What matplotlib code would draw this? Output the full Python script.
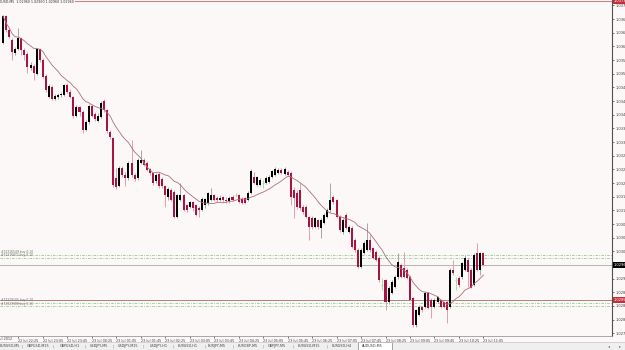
import matplotlib
matplotlib.use("Agg")
import matplotlib.pyplot as plt
import matplotlib.transforms as mtransforms
from matplotlib.patches import Rectangle
import numpy as np
import pandas as pd

# ══════════════════════════════════════════════════════════════════════════════
#  DATA  (AUDUSD, M5 bars from 22 Jul 2012 22:00 to 23 Jul 2012 11:05)
# ══════════════════════════════════════════════════════════════════════════════
opens = [
    1.03610, 1.03689, 1.03648, 1.03619, 1.03581, 1.03592, 1.03625, 1.03590, 1.03578, 1.03537,
    1.03543, 1.03519, 1.03592, 1.03560, 1.03513, 1.03452, 1.03481, 1.03446, 1.03452, 1.03458,
    1.03458, 1.03487, 1.03466, 1.03452, 1.03396, 1.03423, 1.03408, 1.03355, 1.03379, 1.03425,
    1.03402, 1.03382, 1.03393, 1.03440, 1.03414, 1.03349, 1.03332, 1.03214, 1.03191, 1.03244,
    1.03223, 1.03214, 1.03258, 1.03223, 1.03214, 1.03258, 1.03267, 1.03258, 1.03241, 1.03229,
    1.03206, 1.03226, 1.03212, 1.03191, 1.03159, 1.03179, 1.03173, 1.03100, 1.03150, 1.03165,
    1.03135, 1.03130, 1.03144, 1.03135, 1.03127, 1.03121, 1.03135, 1.03141, 1.03150, 1.03165,
    1.03156, 1.03150, 1.03159, 1.03150, 1.03147, 1.03159, 1.03165, 1.03165, 1.03153, 1.03156,
    1.03150, 1.03171, 1.03217, 1.03194, 1.03194, 1.03200, 1.03200, 1.03203, 1.03217, 1.03223,
    1.03229, 1.03238, 1.03226, 1.03232, 1.03229, 1.03179, 1.03171, 1.03179, 1.03130, 1.03130,
    1.03100, 1.03097, 1.03071, 1.03091, 1.03068, 1.03083, 1.03100, 1.03121, 1.03159, 1.03150,
    1.03100, 1.03056, 1.03106, 1.03056, 1.03068, 1.03033, 1.03004, 1.02954, 1.02995, 1.03004,
    1.03033, 1.03009, 1.02998, 1.02980, 1.02901, 1.02916, 1.02851, 1.02878, 1.02895, 1.02924,
    1.02960, 1.02951, 1.02945, 1.02924, 1.02863, 1.02784, 1.02813, 1.02836, 1.02836, 1.02878,
    1.02857, 1.02836, 1.02851, 1.02857, 1.02851, 1.02851, 1.02836, 1.02945, 1.02916, 1.02922,
    1.02924, 1.02945, 1.02974, 1.02945, 1.02901, 1.02995, 1.02945, 1.02995,
]
highs = [
    1.03692, 1.03692, 1.03654, 1.03625, 1.03598, 1.03654, 1.03628, 1.03595, 1.03584, 1.03554,
    1.03549, 1.03595, 1.03595, 1.03566, 1.03519, 1.03490, 1.03487, 1.03461, 1.03464, 1.03466,
    1.03490, 1.03493, 1.03475, 1.03455, 1.03428, 1.03425, 1.03414, 1.03384, 1.03431, 1.03431,
    1.03408, 1.03405, 1.03440, 1.03446, 1.03417, 1.03355, 1.03335, 1.03244, 1.03250, 1.03250,
    1.03232, 1.03264, 1.03326, 1.03229, 1.03273, 1.03297, 1.03273, 1.03264, 1.03244, 1.03232,
    1.03229, 1.03232, 1.03217, 1.03194, 1.03188, 1.03185, 1.03179, 1.03168, 1.03200, 1.03168,
    1.03138, 1.03147, 1.03147, 1.03138, 1.03132, 1.03159, 1.03156, 1.03173, 1.03185, 1.03168,
    1.03162, 1.03165, 1.03162, 1.03159, 1.03162, 1.03165, 1.03171, 1.03168, 1.03159, 1.03159,
    1.03176, 1.03241, 1.03232, 1.03220, 1.03214, 1.03209, 1.03220, 1.03223, 1.03238, 1.03247,
    1.03244, 1.03244, 1.03247, 1.03238, 1.03235, 1.03188, 1.03179, 1.03200, 1.03135, 1.03135,
    1.03103, 1.03103, 1.03100, 1.03094, 1.03097, 1.03112, 1.03127, 1.03200, 1.03165, 1.03153,
    1.03106, 1.03097, 1.03112, 1.03077, 1.03074, 1.03039, 1.03009, 1.03009, 1.03030, 1.03083,
    1.03047, 1.03012, 1.03004, 1.02986, 1.02922, 1.02919, 1.02898, 1.02916, 1.02930, 1.02995,
    1.02965, 1.02998, 1.02951, 1.02930, 1.02866, 1.02831, 1.02842, 1.02839, 1.02883, 1.02880,
    1.02863, 1.02863, 1.02869, 1.02860, 1.02854, 1.02857, 1.02951, 1.02974, 1.02924, 1.02927,
    1.02968, 1.02989, 1.02980, 1.02951, 1.02995, 1.03024, 1.02998, 1.02998,
]
lows = [
    1.03607, 1.03642, 1.03625, 1.03560, 1.03575, 1.03590, 1.03575, 1.03560, 1.03522, 1.03531,
    1.03502, 1.03516, 1.03554, 1.03508, 1.03466, 1.03449, 1.03443, 1.03443, 1.03446, 1.03452,
    1.03455, 1.03464, 1.03449, 1.03390, 1.03393, 1.03396, 1.03346, 1.03352, 1.03373, 1.03393,
    1.03382, 1.03379, 1.03390, 1.03408, 1.03346, 1.03329, 1.03188, 1.03182, 1.03188, 1.03217,
    1.03191, 1.03209, 1.03217, 1.03206, 1.03209, 1.03256, 1.03250, 1.03235, 1.03223, 1.03194,
    1.03200, 1.03185, 1.03185, 1.03130, 1.03150, 1.03147, 1.03097, 1.03097, 1.03147, 1.03118,
    1.03115, 1.03127, 1.03118, 1.03103, 1.03100, 1.03118, 1.03127, 1.03135, 1.03147, 1.03147,
    1.03144, 1.03147, 1.03144, 1.03141, 1.03141, 1.03147, 1.03159, 1.03141, 1.03138, 1.03138,
    1.03147, 1.03168, 1.03197, 1.03191, 1.03191, 1.03185, 1.03197, 1.03200, 1.03214, 1.03220,
    1.03226, 1.03226, 1.03223, 1.03220, 1.03135, 1.03097, 1.03124, 1.03121, 1.03109, 1.03097,
    1.03033, 1.03065, 1.03068, 1.03065, 1.03039, 1.03080, 1.03097, 1.03115, 1.03138, 1.03097,
    1.03056, 1.03050, 1.03065, 1.03053, 1.03009, 1.02998, 1.02951, 1.02951, 1.02992, 1.03001,
    1.02998, 1.02977, 1.02971, 1.02910, 1.02886, 1.02828, 1.02845, 1.02875, 1.02892, 1.02919,
    1.02922, 1.02922, 1.02919, 1.02854, 1.02778, 1.02778, 1.02810, 1.02822, 1.02834, 1.02831,
    1.02804, 1.02834, 1.02848, 1.02834, 1.02834, 1.02790, 1.02834, 1.02930, 1.02886, 1.02895,
    1.02919, 1.02942, 1.02895, 1.02892, 1.02898, 1.02942, 1.02930, 1.02957,
]
closes = [
    1.03689, 1.03648, 1.03628, 1.03584, 1.03592, 1.03625, 1.03590, 1.03575, 1.03540, 1.03546,
    1.03522, 1.03592, 1.03560, 1.03510, 1.03472, 1.03484, 1.03446, 1.03455, 1.03458, 1.03461,
    1.03487, 1.03466, 1.03452, 1.03396, 1.03423, 1.03408, 1.03355, 1.03379, 1.03425, 1.03396,
    1.03387, 1.03396, 1.03434, 1.03414, 1.03352, 1.03335, 1.03194, 1.03188, 1.03244, 1.03223,
    1.03214, 1.03258, 1.03223, 1.03212, 1.03267, 1.03267, 1.03253, 1.03238, 1.03229, 1.03200,
    1.03223, 1.03191, 1.03191, 1.03165, 1.03182, 1.03150, 1.03100, 1.03165, 1.03165, 1.03121,
    1.03121, 1.03144, 1.03127, 1.03106, 1.03121, 1.03153, 1.03153, 1.03171, 1.03165, 1.03150,
    1.03150, 1.03156, 1.03150, 1.03147, 1.03156, 1.03150, 1.03165, 1.03144, 1.03141, 1.03141,
    1.03171, 1.03235, 1.03200, 1.03217, 1.03209, 1.03200, 1.03214, 1.03217, 1.03235, 1.03241,
    1.03238, 1.03229, 1.03241, 1.03223, 1.03159, 1.03156, 1.03130, 1.03127, 1.03115, 1.03100,
    1.03071, 1.03071, 1.03097, 1.03071, 1.03091, 1.03106, 1.03121, 1.03150, 1.03144, 1.03100,
    1.03062, 1.03091, 1.03068, 1.03071, 1.03012, 1.03004, 1.02954, 1.03004, 1.03024, 1.03033,
    1.03004, 1.02980, 1.02974, 1.02916, 1.02901, 1.02851, 1.02892, 1.02910, 1.02924, 1.02968,
    1.02924, 1.02924, 1.02922, 1.02857, 1.02784, 1.02828, 1.02836, 1.02828, 1.02878, 1.02834,
    1.02836, 1.02857, 1.02866, 1.02836, 1.02836, 1.02828, 1.02945, 1.02936, 1.02916, 1.02901,
    1.02965, 1.02980, 1.02939, 1.02892, 1.02989, 1.02945, 1.02995, 1.02960,
]
MA_PERIOD = 14

# time axis: first bar 22 Jul 22:00, label every 8 bars (40 min)
first_label = "22 Jul 2012"
time_labels = [
    "22 Jul 22:25", "22 Jul 23:05", "22 Jul 23:45", "23 Jul 00:25", "23 Jul 01:05",
    "23 Jul 01:45", "23 Jul 02:25", "23 Jul 03:05", "23 Jul 03:45", "23 Jul 04:25",
    "23 Jul 05:05", "23 Jul 05:45", "23 Jul 06:25", "23 Jul 07:05", "23 Jul 07:45",
    "23 Jul 08:25", "23 Jul 09:05", "23 Jul 09:45", "23 Jul 10:25", "23 Jul 11:05",
]
label_bars = [5 + 8 * k for k in range(len(time_labels))]

# price scale labels
price_ticks = [round(1.0372 - 0.0004 * k, 4) for k in range(25)]

# horizontal levels
top_line    = 1.03734
bid_price   = 1.02960
alert_line  = 1.02858
order_lines = [1.02989, 1.02980, 1.02850, 1.02839]
order_texts = ["#72316549 buy 0.10", "#72316872 buy 0.10",
               "#72329105 buy 0.10", "#72329388 buy 0.10"]

header = "AUDUSD,M5  1.02960 1.02960 1.02960 1.02960"

tabs = ["EURUSD,M5", "GBPUSD,M15", "GBPUSD,H1", "USDJPY,M5", "USDJPY,M15",
        "USDJPY,H1", "EURUSD,H1", "EURJPY,M5", "EURGBP,M5", "GBPJPY,M5",
        "EURUSD,M15", "EURUSD,H4", "AUDUSD,M5"]

# ══════════════════════════════════════════════════════════════════════════════
#  STYLE
# ══════════════════════════════════════════════════════════════════════════════
BG        = "#FCF8F8"
BULL_BODY = "#000000"
BULL_WICK = "#A8A8A8"
BEAR_BODY = "#AA1240"
BEAR_WICK = "#DFA2B4"
DOJI      = "#A6DCA6"
MA_COLOR  = "#A8707A"
GREEN_LVL = "#8CCB8C"

W, H = 625, 350
PLOT_R, PLOT_B = 612, 336          # right / bottom edge of the chart area (px)
BAR_STEP, BAR_X0 = 3.06, 3.0       # px per bar, px of first bar

fig = plt.figure(figsize=(W / 100, H / 100), dpi=100)
fig.patch.set_facecolor(BG)
ax = fig.add_axes([0, (H - PLOT_B) / H, PLOT_R / W, PLOT_B / H])
ax.set_facecolor(BG)

o = np.array(opens); h = np.array(highs); l = np.array(lows); c = np.array(closes)
idx = np.arange(len(o))
bull = c > o
bear = c < o
doji = c == o
body_w = 0.66

# ── candles ─────────────────────────────────────────────────────────────────
ax.vlines(idx[bull], l[bull], h[bull], color=BULL_WICK, lw=0.72, zorder=3)
ax.vlines(idx[bear], l[bear], h[bear], color=BEAR_WICK, lw=0.72, zorder=3)
ax.vlines(idx[doji], l[doji], h[doji], color=DOJI, lw=0.72, zorder=3)
ax.bar(idx[bull], c[bull] - o[bull], bottom=o[bull], width=body_w,
       color=BULL_BODY, linewidth=0, zorder=4)
ax.bar(idx[bear], o[bear] - c[bear], bottom=c[bear], width=body_w,
       color=BEAR_BODY, linewidth=0, zorder=4)
ax.hlines(o[doji], idx[doji] - body_w / 2, idx[doji] + body_w / 2,
          color=DOJI, lw=0.72, zorder=4)

# ── moving average ──────────────────────────────────────────────────────────
ma = pd.Series(closes).rolling(MA_PERIOD, min_periods=1).mean()
ax.plot(idx, ma, color=MA_COLOR, lw=0.6, zorder=5)

# ── horizontal lines ────────────────────────────────────────────────────────
ax.axhline(top_line, color="#C08A8A", lw=0.8, zorder=2)
ax.axhline(bid_price, color="#A8A8A8", lw=0.6, zorder=2)
ax.axhline(alert_line, color="#B06A6A", lw=0.6, zorder=2)
for lvl in order_lines:
    ax.axhline(lvl, color=GREEN_LVL, lw=0.6, ls=(0, (3, 1.5, 1, 1.5)), zorder=2)

blend = mtransforms.blended_transform_factory(ax.transAxes, ax.transData)
for lvl, txt in zip(order_lines, order_texts):
    ax.text(0.001, lvl + 0.00002, txt, transform=blend, fontsize=2.2,
            color="#6E6E6E", va="bottom", ha="left", zorder=6)

# ── axes ────────────────────────────────────────────────────────────────────
ax.set_xlim(-BAR_X0 / BAR_STEP, (PLOT_R - BAR_X0) / BAR_STEP)
ax.set_ylim(1.02752, 1.03736)
for s in ("top", "left"):
    ax.spines[s].set_visible(False)
ax.spines["right"].set_color("#505050")
ax.spines["right"].set_linewidth(0.8)
ax.spines["bottom"].set_color("#9A9A9A")
ax.spines["bottom"].set_linewidth(0.6)

ax.yaxis.tick_right()
ax.set_yticks(price_ticks)
# the bid box on the scale hides the label at the bid price
ax.set_yticklabels(["" if abs(v - bid_price) < 1e-6 else f"{v:.5f}"
                    for v in price_ticks])
ax.tick_params(axis="y", length=1.5, width=0.5, pad=1.2, labelsize=2.6,
               colors="#404040")

ax.set_xticks(label_bars)
ax.set_xticklabels(time_labels)
ax.tick_params(axis="x", length=1.5, width=0.5, pad=0.8, labelsize=2.4,
               colors="#404040")
for t in ax.get_xticklabels():
    t.set_ha("left")
ax.text(0, -0.004, first_label, transform=mtransforms.blended_transform_factory(
    ax.transData, ax.transAxes), fontsize=2.4, color="#404040",
    ha="center", va="top")

# ── price boxes on the scale ────────────────────────────────────────────────
for lvl, fc in [(bid_price, "#000000"), (alert_line, "#C0303A"), (top_line, "#C0303A")]:
    ax.text(1.003, lvl, f"{lvl:.5f}", transform=blend, fontsize=2.6, color="white",
            va="center", ha="left", zorder=7, clip_on=False,
            bbox=dict(boxstyle="square,pad=0.3", fc=fc, ec="none"))

# ── header ──────────────────────────────────────────────────────────────────
fig.text(-6 / W, 1 - 2.2 / H, header, fontsize=2.3, color="#303030",
         ha="left", va="center",
         bbox=dict(boxstyle="square,pad=0.25", fc=BG, ec="none"), zorder=10)

# ── symbol tab bar ──────────────────────────────────────────────────────────
fig.patches.append(Rectangle((0, 0), 1, 8 / H, transform=fig.transFigure,
                             fc="#EFEFEF", ec="none", zorder=0))
fig.add_artist(plt.Line2D([0, 1], [8 / H, 8 / H], transform=fig.transFigure,
                          color="#C8C8C8", lw=0.5))
tab_x = [0, 27, 60, 90, 118, 150, 178, 208, 238, 268, 298, 332, 362]
sep_x = [22, 53, 85, 113, 143, 173, 205, 233, 263, 293, 327]
fig.patches.append(Rectangle((358 / W, 0), 34 / W, 8 / H, transform=fig.transFigure,
                             fc="white", ec="#808080", lw=0.5, zorder=1))
for x, name in zip(tab_x, tabs):
    fig.text(x / W, 4 / H, name, fontsize=2.4, color="#404040",
             ha="left", va="center")
for x in sep_x:
    fig.text(x / W, 4 / H, "|", fontsize=2.6, color="#808080",
             ha="center", va="center")
fig.text(609 / W, 4 / H, "◂", fontsize=3, color="#707070", ha="center", va="center")
fig.text(620 / W, 4 / H, "▸", fontsize=3, color="#707070", ha="center", va="center")

fig.savefig("out.png", dpi=100, facecolor=BG)
